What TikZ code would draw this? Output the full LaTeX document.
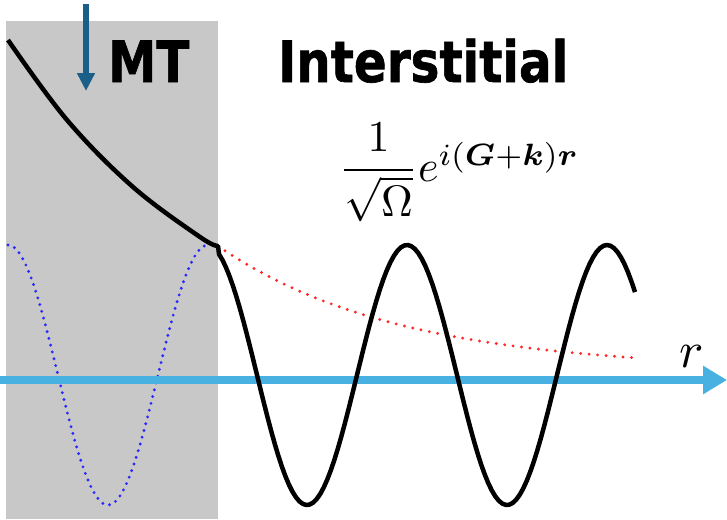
\documentclass[tikz,border=0pt]{standalone}
\usepackage{fontspec}
\usepackage{amsmath,bm}
\usepackage{graphicx}
\newfontfamily\labelfont{DejaVu Sans}[BoldFeatures={FakeBold=1.2}]
\usetikzlibrary{arrows.meta}
\definecolor{mtgray}{HTML}{C8C8C8}
\definecolor{darkarrow}{HTML}{1A5F87}
\definecolor{axisblue}{HTML}{48B1E1}
\definecolor{dotred}{HTML}{FF2828}
\definecolor{dotblue}{HTML}{2828FF}
\newcommand{\titletext}[1]{\scalebox{0.85}[1]{\labelfont\bfseries\fontsize{57}{60}\selectfont #1}}
\begin{document}
\begin{tikzpicture}[x=1pt,y=-1pt,
  title/.style={inner sep=0pt, anchor=base west},
  wave/.style={line width=4.5pt, black, line join=round},
  reddots/.style={dotred, line width=3.2pt, line cap=round, dash pattern=on 0pt off 8.5pt},
  bluedots/.style={dotblue, line width=3.2pt, line cap=round, dash pattern=on 0pt off 7pt}]
\useasboundingbox (0,0) rectangle (727,519);
% muffin-tin region
\fill[mtgray] (6,21) rectangle (218,519);
% coordinates
\coordinate (kink) at (218,246);
\coordinate (astart) at (0,380);
\coordinate (aend) at (727,380);
\coordinate (dtop) at (86,4);
\coordinate (dtip) at (86,91);
% blue dotted cosine inside MT
\draw[bluedots] plot[domain=8:205, samples=80, variable=\x] ({\x},{375+130*cos(1.8*(\x-108))});
% red dotted decay
\draw[reddots] plot[domain=218:635, samples=80, variable=\x] ({\x},{370-124*exp(-(\x-218)/180)});
% axis
\draw[axisblue, line width=8pt, -{Triangle[width=27pt,length=24pt]}] (astart) -- (aend);
% black curve
\draw[wave] plot[smooth, tension=0.6] coordinates {(8,40) (67,120) (133,187) (200,237) (kink)}
  -- plot[domain=219:635, samples=120, variable=\x] ({\x},{375-130*cos(1.8*(\x-407))});
% dark arrow
\draw[darkarrow, line width=6pt, -{Triangle[width=17pt,length=18pt]}] (dtop) -- (dtip);
% labels
\node[title] (mt) at (108,82) {\titletext{MT}};
\node[title] (inter) at (278,82) {\titletext{Interstitial}};
\node[inner sep=0pt, anchor=base west] (formula) at (339,181)
  {\scalebox{4.4}{$\dfrac{1}{\sqrt{\Omega}}e^{i(\bm{G}+\bm{k})\bm{r}}$}};
\node[inner sep=0pt, anchor=base west] (rlabel) at (679,367) {\scalebox{5.1}{$r$}};
\end{tikzpicture}
\end{document}
